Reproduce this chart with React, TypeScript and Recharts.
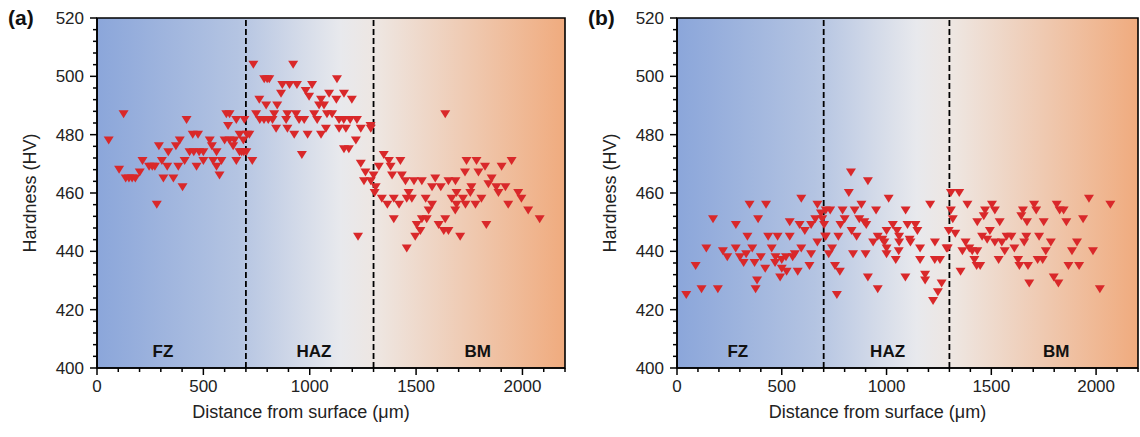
import React from 'react';
import {
  ScatterChart,
  Scatter,
  XAxis,
  YAxis,
  ReferenceArea,
  ReferenceLine,
  ReferenceDot,
} from 'recharts';

// panel (a) – hardness points
const aX = [
  55, 125, 104, 135, 150, 165, 180, 201, 214, 245, 260, 272, 281, 291, 305, 312, 335, 330, 359, 371,
  389, 382, 402, 412, 421, 450, 475, 435, 455, 480, 500, 468, 500, 530, 540, 546, 562, 562, 576, 585,
  600, 623, 646, 608, 623, 616, 655, 640, 655, 670, 688, 670, 690, 693, 705, 716, 680, 702, 730,
  735, 922, 786, 800, 810, 871, 905, 940, 1011, 865, 981, 997, 1091, 1128, 1161, 763, 795, 847, 1053,
  1125, 1198, 748, 833, 895, 936, 1021, 1044, 1067, 1081, 1105, 765, 785, 805, 825, 889, 950, 974,
  1035, 1138, 1160, 1190, 1222, 842, 895, 927, 990, 1053, 1076, 1138, 1170, 1240, 1287, 1217, 1161,
  1184, 963, 1240, 1262, 1287, 1255, 1227,
  1637, 1286, 1348, 1372, 1426, 1325, 1380, 1300, 1310, 1305, 1387, 1433, 1450, 1490, 1527, 1575,
  1616, 1590, 1652, 1685, 1737, 1784, 1824, 1902, 1949, 1730, 1793, 1855, 1877, 1920, 1760, 1465,
  1690, 1755, 1840, 1887, 1980, 1339, 1365, 1395, 1420, 1456, 1480, 1545, 1575, 1667, 1690, 1720,
  1732, 1779, 1807, 1933, 1995, 1559, 1684, 2027, 2081, 1395, 1527, 1550, 1637, 1503, 1520, 1606,
  1630, 1652, 1830, 1496, 1707, 1456,
];
const aY = [
  478, 487, 468, 465, 465, 465, 465, 467, 471, 469, 469, 469, 456, 476, 471, 465, 474, 469, 465, 476,
  478, 469, 462, 471, 485, 480, 480, 474, 474, 474, 474, 469, 471, 478, 476, 471, 474, 469, 466, 471,
  478, 478, 478, 487, 487, 483, 485, 476, 471, 480, 478, 474, 474, 485, 480, 480, 474, 474, 471,
  504, 504, 499, 499, 499, 497, 497, 497, 497, 494, 495, 493, 494, 499, 494, 492, 490, 490, 492,
  492, 492, 487, 487, 487, 487, 487, 490, 490, 487, 487, 485, 485, 485, 485, 485, 485, 485,
  485, 485, 485, 485, 485, 482, 482, 480, 480, 480, 482, 482, 482, 482, 482, 478, 475,
  475, 473, 470, 467, 464, 464, 445,
  487, 483, 473, 471, 471, 469, 469, 466, 462, 460, 466, 466, 464, 464, 464, 462,
  462, 465, 464, 464, 471, 471, 469, 469, 471, 467, 467, 465, 462, 462, 462, 460,
  460, 460, 463, 460, 460, 458, 456, 458, 456, 458, 458, 458, 456, 458, 456, 458,
  456, 456, 458, 456, 458, 454, 454, 454, 451, 451, 451, 451, 451, 449, 447, 449,
  447, 447, 449, 445, 445, 441,
];

// panel (b)
const bX = [
  44, 117, 195, 89, 140, 172, 281, 346, 425, 387, 336, 219, 240, 280, 300, 330, 359, 318, 370, 400,
  421, 382, 375, 435, 480, 538, 452, 470, 500, 468, 520, 552, 500, 523, 492, 538, 585, 610, 640, 660,
  687, 593, 670, 710, 593, 562, 576, 640, 632, 670, 710,
  830, 911, 820, 1010, 880, 731, 790, 848, 950, 1091, 1208, 693, 800, 870, 894, 702, 780, 903, 1030,
  1100, 1138, 833, 1000, 1050, 1147, 707, 770, 857, 958, 980, 1060, 1110, 936, 990, 1060, 1114, 1231,
  740, 1000, 1160, 1286, 724, 840, 900, 1000, 1058, 1044, 1160, 1230, 1255, 754, 777, 911, 1090,
  1184, 1184, 1263, 958, 1245, 763, 1222,
  1307, 1347, 1386, 1503, 1517, 1470, 1651, 1704, 1714, 1812, 1826, 1845, 1966, 2068, 1307, 1316,
  1464, 1643, 1938, 1433, 1540, 1670, 1750, 1858, 1493, 1297, 1328, 1456, 1480, 1517, 1550, 1573,
  1596, 1667, 1728, 1657, 1784, 1909, 1292, 1377, 1395, 1409, 1362, 1433, 1564, 1610, 1760, 1885,
  1985, 1535, 1628, 1721, 1745, 1419, 1430, 1447, 1634, 1675, 1868, 1919, 1353, 1798, 1820, 1681,
  2018,
];
const bY = [
  425, 427, 427, 435, 441, 451, 449, 456, 456, 451, 445, 440, 438, 441, 438, 439, 441, 436, 436, 438,
  434, 430, 427, 445, 445, 445, 441, 438, 437, 436, 438, 438, 434, 433, 431, 450, 449, 447, 449, 451,
  453, 458, 456, 454, 441, 439, 433, 439, 435, 443, 445,
  467, 464, 460, 458, 456, 454, 454, 454, 454, 454, 456, 451, 451, 451, 450, 449, 449, 449, 449,
  449, 449, 447, 447, 447, 447, 445, 445, 445, 445, 444, 445, 444, 443, 443, 443, 443, 443,
  441, 441, 441, 441, 439, 439, 439, 439, 440, 437, 437, 437, 437, 435, 433, 431, 431,
  432, 430, 429, 427, 426, 425, 423,
  460, 460, 456, 456, 454, 454, 454, 456, 454, 456, 454, 454, 458, 456, 454, 451,
  452, 452, 451, 450, 450, 450, 450, 450, 447, 447, 446, 445, 444, 443, 443, 445,
  445, 445, 445, 443, 443, 443, 441, 443, 441, 440, 440, 440, 440, 441, 440, 440,
  440, 437, 437, 437, 437, 437, 435, 435, 435, 435, 435, 435, 433, 431, 429, 429,
  427,
];

const xMajor = [0, 500, 1000, 1500, 2000];
const yMajor = [400, 420, 440, 460, 480, 500, 520];
const xTicks = Array.from({ length: 23 }, (_, i) => i * 100);
const yTicks = Array.from({ length: 31 }, (_, i) => 400 + i * 4);

const zoneBounds = [700, 1300];

const RED = '#d9282a';
const FONT = '"Liberation Sans", Arial, sans-serif';

const Tri = (props: any) => {
  const { cx, cy } = props;
  if (cx == null || cy == null) return null;
  return <path d={`M${cx - 5},${cy - 4}L${cx + 5},${cy - 4}L${cx},${cy + 4}Z`} fill={RED} />;
};

const YTick = (props: any) => {
  const { x, y, payload } = props;
  const major = yMajor.includes(payload.value);
  return (
    <g>
      <line x1={x} x2={x - (major ? 7 : 4)} y1={y} y2={y} stroke="#000" strokeWidth={1.5} />
      {major && (
        <text x={x - 13} y={y + 6} textAnchor="end" fontSize={17} fill="#222" fontFamily={FONT}>
          {payload.value}
        </text>
      )}
    </g>
  );
};

const XTick = (props: any) => {
  const { x, y, payload } = props;
  const major = xMajor.includes(payload.value);
  return (
    <g>
      <line x1={x} x2={x} y1={y} y2={y + (major ? 7 : 4)} stroke="#000" strokeWidth={1.5} />
      {major && (
        <text x={x} y={y + 24} textAnchor="middle" fontSize={17} fill="#222" fontFamily={FONT}>
          {payload.value}
        </text>
      )}
    </g>
  );
};

const zoneLabel = (text: string) => (props: any) => {
  const { viewBox } = props;
  const cx = viewBox.x + (viewBox.width || 0) / 2;
  const cy = viewBox.y + (viewBox.height || 0) / 2;
  return (
    <text x={cx} y={cy + 6} textAnchor="middle" fontSize={17} fontWeight="bold" fill="#111" fontFamily={FONT}>
      {text}
    </text>
  );
};

interface PanelProps {
  id: string;
  tag: string;
  xs: number[];
  ys: number[];
  width: number;
  right: number;
  zones: { name: string; x: number }[];
}

const Panel: React.FC<PanelProps> = ({ id, tag, xs, ys, width, right, zones }) => {
  const data = xs.map((x, i) => ({ x, y: ys[i] }));
  return (
    <div style={{ position: 'relative', width, height: 437 }}>
      <ScatterChart width={width} height={437} margin={{ top: 18, right, bottom: 0, left: 0 }}>
        <defs>
          <linearGradient id={id} x1="0" y1="0" x2="1" y2="0">
            <stop offset="0" stopColor="#8ba6da" />
            <stop offset="0.3" stopColor="#b4c4e2" />
            <stop offset="0.52" stopColor="#e8e9ed" />
            <stop offset="0.6" stopColor="#eee6e1" />
            <stop offset="1" stopColor="#f0ab7e" />
          </linearGradient>
        </defs>
        <XAxis
          type="number"
          dataKey="x"
          domain={[0, 2200]}
          ticks={xTicks}
          interval={0}
          tickSize={0}
          tickMargin={0}
          tickLine={false}
          tick={<XTick />}
          height={69}
          axisLine={{ stroke: '#000', strokeWidth: 1.6 }}
          label={(p: any) => {
            const vb = p.viewBox;
            return (
              <text x={vb.x + vb.width / 2 - 30} y={vb.y + 50} textAnchor="middle" fontSize={18} fill="#222" fontFamily={FONT}>
                Distance from surface (μm)
              </text>
            );
          }}
        />
        <YAxis
          type="number"
          dataKey="y"
          domain={[400, 520]}
          ticks={yTicks}
          interval={0}
          allowDataOverflow
          tickSize={0}
          tickMargin={0}
          tickLine={false}
          tick={<YTick />}
          width={97}
          axisLine={{ stroke: '#000', strokeWidth: 1.6 }}
          label={(p: any) => {
            const vb = p.viewBox;
            const cx = vb.x + 30;
            const cy = vb.y + vb.height / 2;
            return (
              <text x={cx} y={cy} textAnchor="middle" fontSize={18} fill="#222" fontFamily={FONT}
                transform={`rotate(-90 ${cx} ${cy})`} dy={6}>
                Hardness (HV)
              </text>
            );
          }}
        />
        <ReferenceArea x1={0} x2={2200} y1={400} y2={520} fill={`url(#${id})`} fillOpacity={1}
          stroke="#000" strokeWidth={1.6} />
        {zoneBounds.map((b) => (
          <ReferenceLine key={b} x={b} stroke="#000" strokeWidth={1.8} strokeDasharray="6 3" />
        ))}
        {zones.map((z) => (
          <ReferenceDot key={z.name} x={z.x} y={406} r={0} stroke="none" fill="none" label={zoneLabel(z.name)} />
        ))}
        <Scatter data={data} shape={<Tri />} isAnimationActive={false} />
      </ScatterChart>
      <div style={{ position: 'absolute', left: 8, top: 6, fontFamily: FONT, fontWeight: 'bold', fontSize: 21, color: '#111' }}>
        {tag}
      </div>
    </div>
  );
};

export default function App() {
  return (
    <div style={{ position: 'absolute', left: 0, top: 0, width: 1140, height: 437, background: '#fff', overflow: 'hidden', display: 'flex' }}>
      <Panel id="gradA" tag="(a)" xs={aX} ys={aY} width={580} right={15}
        zones={[{ name: 'FZ', x: 310 }, { name: 'HAZ', x: 1020 }, { name: 'BM', x: 1790 }]} />
      <Panel id="gradB" tag="(b)" xs={bX} ys={bY} width={560} right={2}
        zones={[{ name: 'FZ', x: 290 }, { name: 'HAZ', x: 1005 }, { name: 'BM', x: 1810 }]} />
    </div>
  );
}
